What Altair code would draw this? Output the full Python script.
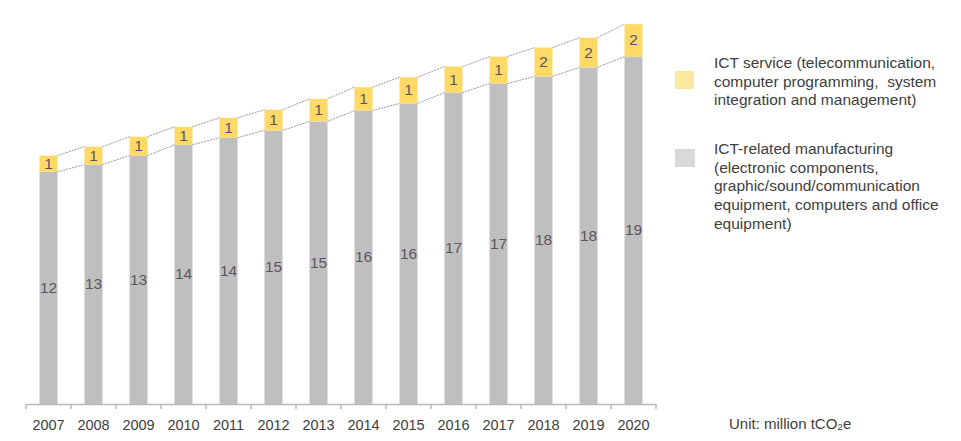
import altair as alt
import pandas as pd

# ---- data (million tCO2e) ----
years = [str(y) for y in range(2007, 2021)]
manufacturing = [12.9, 13.3, 13.8, 14.4, 14.8, 15.2, 15.7, 16.3, 16.7, 17.3, 17.8, 18.2, 18.7, 19.3]
service = [0.9, 1.0, 1.05, 1.0, 1.1, 1.15, 1.25, 1.3, 1.45, 1.45, 1.5, 1.6, 1.65, 1.8]
manufacturing_labels = [12, 13, 13, 14, 14, 15, 15, 16, 16, 17, 17, 18, 18, 19]
service_labels = [1, 1, 1, 1, 1, 1, 1, 1, 1, 1, 1, 2, 2, 2]

legend_service = ["ICT service (telecommunication,",
                  "computer programming,\u00a0 system",
                  "integration and management)"]
legend_manufacturing = ["ICT-related manufacturing",
                        "(electronic components,",
                        "graphic/sound/communication",
                        "equipment, computers and office",
                        "equipment)"]
unit_main = "Unit: million tCO"
unit_sub = "2"
unit_end = "e"

GREY = "#bfbfbf"
YELLOW = "#ffd966"
FONT = "Liberation Sans"

df = pd.DataFrame({
    "year": years,
    "manuf": manufacturing,
    "service": service,
    "ml": [str(v) for v in manufacturing_labels],
    "sl": [str(v) for v in service_labels],
})
df["total"] = df["manuf"] + df["service"]
df["manuf_mid"] = df["manuf"] / 2
df["service_mid"] = df["manuf"] + df["service"] / 2

seg = pd.DataFrame({
    "year": years[:-1],
    "next_year": years[1:],
    "manuf": manufacturing[:-1],
    "next_manuf": manufacturing[1:],
    "total": [m + s for m, s in zip(manufacturing[:-1], service[:-1])],
    "next_total": [m + s for m, s in zip(manufacturing[1:], service[1:])],
})

yscale = alt.Scale(domain=[0, 22], nice=False, zero=True)
xenc = alt.X(
    "year:N",
    sort=years,
    scale=alt.Scale(paddingInner=0, paddingOuter=0),
    axis=alt.Axis(title=None, labelAngle=0, ticks=False, domainColor="#b8b8b8",
                  domainWidth=1.5, labelFont=FONT, labelFontSize=14.5,
                  labelColor="#404040", labelPadding=14, grid=False),
)

base = alt.Chart(df)

grey_bars = base.mark_bar(size=18, color=GREY).encode(
    x=xenc, y=alt.Y("manuf:Q", scale=yscale, axis=None)
)
yellow_bars = base.mark_bar(size=18, color=YELLOW).encode(
    x=xenc, y=alt.Y("manuf:Q", scale=yscale, axis=None), y2="total:Q"
)
manuf_text = base.mark_text(font=FONT, fontSize=15.5, color="#5b5563", baseline="middle").encode(
    x=xenc, y=alt.Y("manuf_mid:Q", scale=yscale, axis=None), text="ml:N"
)
service_text = base.mark_text(font=FONT, fontSize=15.5, color="#5b5563", baseline="middle").encode(
    x=xenc, y=alt.Y("service_mid:Q", scale=yscale, axis=None), text="sl:N"
)

line_style = dict(color="#9a9a9a", strokeWidth=1, strokeDash=[2, 1], xOffset=9, x2Offset=-9)
top_lines = alt.Chart(seg).mark_rule(**line_style).encode(
    x=alt.X("year:N", sort=years), x2="next_year:N",
    y=alt.Y("total:Q", scale=yscale, axis=None), y2="next_total:Q"
)
mid_lines = alt.Chart(seg).mark_rule(**line_style).encode(
    x=alt.X("year:N", sort=years), x2="next_year:N",
    y=alt.Y("manuf:Q", scale=yscale, axis=None), y2="next_manuf:Q"
)

ticks = base.mark_rule(xOffset=-22.5, color="#b8b8b8", strokeWidth=1.5).encode(
    x=alt.X("year:N", sort=years), y=alt.value(396), y2=alt.value(401)
)
end_tick = base.transform_filter(alt.datum.year == years[-1]).mark_rule(
    xOffset=22.5, color="#b8b8b8", strokeWidth=1.5
).encode(x=alt.X("year:N", sort=years), y=alt.value(396), y2=alt.value(401))

one = alt.Chart(pd.DataFrame({"k": [0]}))
leg_sq1 = one.mark_rect(color="#fce8a0").encode(
    x=alt.value(649), x2=alt.value(668), y=alt.value(63), y2=alt.value(81)
)
leg_sq2 = one.mark_rect(color="#d9d9d9").encode(
    x=alt.value(649), x2=alt.value(669), y=alt.value(141), y2=alt.value(159)
)
leg_txt1 = one.mark_text(text=legend_service, font=FONT, fontSize=15.5, color="#404040",
                         align="left", baseline="middle", lineHeight=18.6).encode(
    x=alt.value(688), y=alt.value(55)
)
leg_txt2 = one.mark_text(text=legend_manufacturing, font=FONT, fontSize=15.5, color="#404040",
                         align="left", baseline="middle", lineHeight=18.7).encode(
    x=alt.value(688), y=alt.value(141)
)
unit1 = one.mark_text(text=unit_main, font=FONT, fontSize=15, color="#404040",
                      align="left", baseline="middle").encode(
    x=alt.value(703), y=alt.value(416)
)
unit2 = one.mark_text(text=unit_sub, font=FONT, fontSize=9.5, color="#404040",
                      align="left", baseline="middle").encode(
    x=alt.value(811.5), y=alt.value(419)
)
unit3 = one.mark_text(text=unit_end, font=FONT, fontSize=15, color="#404040",
                      align="left", baseline="middle").encode(
    x=alt.value(817), y=alt.value(416)
)

chart = alt.layer(
    grey_bars, yellow_bars, top_lines, mid_lines, manuf_text, service_text,
    ticks, end_tick, leg_sq1, leg_sq2, leg_txt1, leg_txt2, unit1, unit2, unit3
).properties(
    width=630, height=396,
    autosize=alt.AutoSizeParams(type="none"),
    padding={"left": 18, "top": 0, "right": 297, "bottom": 29},
    background="white",
).configure_view(stroke=None)

chart.save("out.html", embed_options={"renderer": "svg", "actions": False})
